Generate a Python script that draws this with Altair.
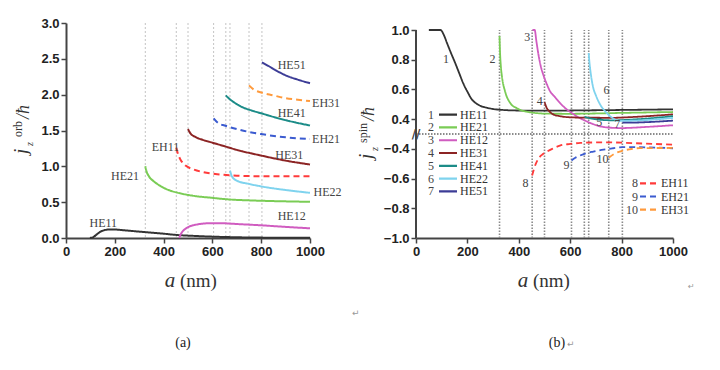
import altair as alt
import pandas as pd

# ---------------- cut-off radii (vertical dotted lines) ----------------
CUTOFFS = [325, 452, 500, 605, 655, 672, 750, 803]

# ---------------- panel (a): orbital AM  j_z^orb / hbar ----------------
ORB_HE11_A = [98, 110, 126, 140, 155, 175, 195, 230, 270, 320, 400, 455, 520, 590, 700, 850, 1000]
ORB_HE11_V = [0.0, 0.01, 0.05, 0.085, 0.107, 0.118, 0.12, 0.11, 0.098, 0.083, 0.06, 0.042, 0.03, 0.02, 0.01, 0.004, 0.002]
ORB_HE21_A = [325, 330, 340, 360, 385, 420, 460, 520, 600, 660, 750, 850, 1000]
ORB_HE21_V = [1.0, 0.93, 0.86, 0.79, 0.73, 0.67, 0.63, 0.59, 0.56, 0.54, 0.525, 0.515, 0.505]
ORB_EH11_A = [452, 460, 470, 490, 520, 560, 620, 700, 800, 1000]
ORB_EH11_V = [1.26, 1.16, 1.09, 1.01, 0.96, 0.92, 0.89, 0.87, 0.862, 0.86]
ORB_HE12_A = [464, 470, 480, 490, 505, 525, 560, 600, 650, 700, 800, 900, 1000]
ORB_HE12_V = [0.0, 0.05, 0.10, 0.13, 0.16, 0.18, 0.2, 0.207, 0.205, 0.195, 0.177, 0.155, 0.135]
ORB_HE31_A = [500, 510, 530, 560, 600, 650, 700, 800, 900, 1000]
ORB_HE31_V = [1.52, 1.46, 1.41, 1.37, 1.33, 1.28, 1.23, 1.15, 1.08, 1.025]
ORB_EH21_A = [605, 625, 650, 700, 750, 800, 900, 1000]
ORB_EH21_V = [1.67, 1.60, 1.57, 1.52, 1.48, 1.45, 1.405, 1.38]
ORB_HE22_A = [672, 680, 700, 750, 800, 900, 1000]
ORB_HE22_V = [0.94, 0.86, 0.80, 0.755, 0.72, 0.67, 0.63]
ORB_HE41_A = [655, 670, 690, 720, 760, 800, 850, 900, 950, 1000]
ORB_HE41_V = [1.99, 1.94, 1.89, 1.83, 1.78, 1.74, 1.69, 1.645, 1.605, 1.57]
ORB_EH31_A = [750, 770, 800, 850, 900, 950, 1000]
ORB_EH31_V = [2.13, 2.07, 2.03, 1.99, 1.95, 1.93, 1.91]
ORB_HE51_A = [803, 830, 860, 900, 950, 1000]
ORB_HE51_V = [2.45, 2.40, 2.34, 2.27, 2.21, 2.16]

ORB_LABELS = ["HE11", "HE21", "EH11", "HE31", "EH21", "HE41", "EH31", "HE51", "HE22", "HE12"]
ORB_LABEL_A = [153, 242, 408, 915, 1066, 925, 1066, 925, 1072, 925]
ORB_LABEL_V = [0.21, 0.86, 1.27, 1.16, 1.38, 1.74, 1.89, 2.41, 0.64, 0.31]

# ---------------- panel (b): spin AM  j_z^spin / hbar ----------------
SPIN_HE11_A = [50, 95, 110, 120, 135, 152, 168, 184, 200, 216, 235, 250, 280, 315, 400, 500, 700, 1000]
SPIN_HE11_V = [1.0, 1.0, 0.96, 0.915, 0.85, 0.78, 0.71, 0.64, 0.585, 0.536, 0.505, 0.49, 0.475, 0.465, 0.458, 0.457, 0.46, 0.466]
SPIN_HE21_A = [325, 327, 330, 335, 346, 366, 392, 431, 510, 600, 800, 1000]
SPIN_HE21_V = [0.96, 0.85, 0.76, 0.68, 0.59, 0.51, 0.474, 0.45, 0.437, 0.436, 0.442, 0.448]
SPIN_HE12_A = [453, 462, 468, 475, 485, 495, 508, 521, 540, 560, 580, 605, 630, 663, 716, 760, 800, 900, 1000]
SPIN_HE12_V = [1.0, 1.0, 0.93, 0.85, 0.76, 0.70, 0.64, 0.59, 0.55, 0.51, 0.475, 0.443, 0.415, 0.386, 0.352, 0.342, 0.34, 0.348, 0.359]
SPIN_HE31_A = [500, 508, 520, 534, 560, 586, 650, 767, 850, 1000]
SPIN_HE31_V = [0.515, 0.478, 0.45, 0.432, 0.42, 0.414, 0.41, 0.409, 0.415, 0.432]
SPIN_HE41_A = [656, 700, 767, 850, 1000]
SPIN_HE41_V = [0.415, 0.399, 0.392, 0.398, 0.42]
SPIN_HE22_A = [672, 675, 679, 689, 700, 716, 735, 755, 793, 850, 1000]
SPIN_HE22_V = [0.845, 0.78, 0.72, 0.616, 0.56, 0.50, 0.455, 0.42, 0.388, 0.39, 0.408]
SPIN_HE51_A = [803, 850, 900, 1000]
SPIN_HE51_V = [0.377, 0.377, 0.38, 0.39]
SPIN_EH11_A = [452, 460, 475, 490, 508, 530, 560, 600, 640, 740, 850, 1000]
SPIN_EH11_V = [-0.58, -0.53, -0.47, -0.44, -0.42, -0.40, -0.378, -0.367, -0.36, -0.356, -0.362, -0.372]
SPIN_EH21_A = [605, 620, 638, 660, 690, 730, 767, 806, 900, 1000]
SPIN_EH21_V = [-0.478, -0.46, -0.445, -0.43, -0.418, -0.405, -0.396, -0.388, -0.39, -0.396]
SPIN_EH31_A = [750, 770, 793, 830, 871, 1000]
SPIN_EH31_V = [-0.46, -0.435, -0.418, -0.403, -0.395, -0.394]

SPIN_NUM_LABELS = ["1", "2", "3", "4", "5", "6", "7", "8", "9", "10"]
SPIN_NUM_A = [117, 298, 433, 482, 713, 741, 783, 426, 586, 726]
SPIN_NUM_V = [0.805, 0.805, 0.954, 0.519, 0.381, 0.593, 0.368, -0.631, -0.509, -0.468]

HE_ORDER = ["HE11", "HE21", "HE12", "HE31", "HE41", "HE22", "HE51"]
EH_ORDER = ["EH11", "EH21", "EH31"]
NAMES = HE_ORDER + EH_ORDER
COLORS = ["#333333", "#7acc55", "#d05cc0", "#8c2424", "#1c8c88", "#7fd3ee", "#3c3c96",
          "#ff3b3b", "#3b5bd0", "#ff9a3c"]

ORB = {"HE11": (ORB_HE11_A, ORB_HE11_V), "HE21": (ORB_HE21_A, ORB_HE21_V),
       "HE12": (ORB_HE12_A, ORB_HE12_V), "HE31": (ORB_HE31_A, ORB_HE31_V),
       "HE41": (ORB_HE41_A, ORB_HE41_V), "HE22": (ORB_HE22_A, ORB_HE22_V),
       "HE51": (ORB_HE51_A, ORB_HE51_V), "EH11": (ORB_EH11_A, ORB_EH11_V),
       "EH21": (ORB_EH21_A, ORB_EH21_V), "EH31": (ORB_EH31_A, ORB_EH31_V)}
SPIN = {"HE11": (SPIN_HE11_A, SPIN_HE11_V), "HE21": (SPIN_HE21_A, SPIN_HE21_V),
        "HE12": (SPIN_HE12_A, SPIN_HE12_V), "HE31": (SPIN_HE31_A, SPIN_HE31_V),
        "HE41": (SPIN_HE41_A, SPIN_HE41_V), "HE22": (SPIN_HE22_A, SPIN_HE22_V),
        "HE51": (SPIN_HE51_A, SPIN_HE51_V), "EH11": (SPIN_EH11_A, SPIN_EH11_V),
        "EH21": (SPIN_EH21_A, SPIN_EH21_V), "EH31": (SPIN_EH31_A, SPIN_EH31_V)}


def long_df(d):
    rows = []
    for name, (xs, vs) in d.items():
        for x, v in zip(xs, vs):
            rows.append({"series": name, "kind": name[:2], "a": x, "v": v})
    return pd.DataFrame(rows)


df_orb = long_df(ORB)
df_spin = long_df(SPIN)

color_enc = alt.Color("series:N", scale=alt.Scale(domain=NAMES, range=COLORS), legend=None)

SERIF = "Liberation Serif"
SANS = "Liberation Sans"


def txt(t, x, y, size, style="normal", angle=0, align="left", baseline="alphabetic",
        color="#333333", font=SERIF, weight="normal"):
    return alt.Chart(pd.DataFrame({"t": [t]})).mark_text(
        font=font, fontSize=size, fontStyle=style, angle=angle, align=align,
        baseline=baseline, color=color, fontWeight=weight
    ).encode(x=alt.value(x), y=alt.value(y), text="t:N")


def axis(values, fmt=None, label_expr=None, domain=True):
    kw = dict(values=values, title=None, grid=False, labelFont=SANS, labelFontWeight="bold",
              labelFontSize=13, labelColor="#222222", domainColor="#444444", domainWidth=2,
              tickColor="#444444", tickWidth=1.5, tickSize=5, labelPadding=2, domain=domain,
              labelOverlap=False, labelFlush=False)
    if fmt:
        kw["format"] = fmt
    if label_expr:
        kw["labelExpr"] = label_expr
    return alt.Axis(**kw)


# ---------------- panel (a) ----------------
WA, HA = 244, 215
X_AX = axis([0, 200, 400, 600, 800, 1000], fmt="d")
XS = alt.Scale(domain=[0, 1000], nice=False)
xa = alt.X("a:Q", scale=XS, axis=X_AX)
ya = alt.Y("v:Q", scale=alt.Scale(domain=[0, 3], nice=False),
           axis=axis([0, 0.5, 1, 1.5, 2, 2.5, 3], fmt=".1f"))

rules_a = alt.Chart(pd.DataFrame({"a": CUTOFFS})).mark_rule(
    color="#c4c4c4", strokeDash=[2, 2], strokeWidth=1).encode(x=xa)

lines_a = alt.Chart(df_orb).mark_line(strokeWidth=2, interpolate="monotone").encode(
    x=xa, y=ya,
    color=color_enc,
    strokeDash=alt.StrokeDash("kind:N", scale=alt.Scale(domain=["HE", "EH"], range=[[1, 0], [6, 4]]),
                              legend=None),
    detail="series:N",
)

labels_a = alt.Chart(pd.DataFrame({"name": ORB_LABELS, "a": ORB_LABEL_A, "v": ORB_LABEL_V})).mark_text(
    font=SERIF, fontSize=12, color="#444444", align="center", baseline="middle").encode(
    x=xa, y=ya, text="name:N")

panel_a = alt.layer(
    rules_a, lines_a, labels_a,
    txt("j", -39, 131, 19, style="italic", angle=270),
    txt("z", -33, 123, 10, style="italic", angle=270),
    txt("orb", -44, 114, 12, angle=270),
    txt("/ħ", -37, 96, 18, style="italic", angle=270),
    txt("a", 104, 264, 21, style="italic", align="center"),
    txt("(nm)", 114, 264, 19),
    txt("(a)", 117, 324, 14, align="center", color="#222222"),
    txt("↵", 286, 293, 9, color="#999999", font="DejaVu Sans"),
).properties(width=WA, height=HA)

# ---------------- panel (b) ----------------
WB, HB = 257, 215
PXU = 208 / 1.4          # pixels per unit on the broken axis
YTOP = 0.7 + 7 / PXU
xb = alt.X("a:Q", scale=XS, axis=X_AX)
yb_scale = alt.Scale(domain=[-0.7, YTOP], nice=False, zero=False)
Y_AX_B = axis([0.7, 0.5, 0.3, 0.1, -0.1, -0.3, -0.5, -0.7],
              label_expr="datum.value > 0 ? format(datum.value + 0.3, '.1f') : format(datum.value - 0.3, '.1f')",
              domain=False)
yb = alt.Y("yb:Q", scale=yb_scale, axis=Y_AX_B)
BREAK = "datum.v > 0 ? datum.v - 0.3 : datum.v + 0.3"

axis_line_b = alt.Chart(pd.DataFrame({"a": [0]})).mark_rule(color="#444444", strokeWidth=2).encode(
    x=xb, y=alt.datum(-0.7, scale=yb_scale, axis=Y_AX_B), y2=alt.datum(0.7))

rules_b = alt.Chart(pd.DataFrame({"a": CUTOFFS})).mark_rule(
    color="#8a8a8a", strokeDash=[1.5, 1.5], strokeWidth=1.6).encode(
    x=xb, y=alt.datum(-0.7, scale=yb_scale, axis=Y_AX_B), y2=alt.datum(0.7))

break_line = alt.Chart(pd.DataFrame({"a": [0, 1000]})).mark_rule(
    color="#666666", strokeDash=[1.5, 1.5], strokeWidth=1.4).encode(
    x=alt.X("min(a):Q", scale=XS, axis=X_AX), x2=alt.X2("max(a):Q"),
    y=alt.datum(0, scale=yb_scale, axis=Y_AX_B))

break_mark = alt.Chart(pd.DataFrame({"a": [0]})).mark_text(
    text="//", font="DejaVu Sans", fontSize=12, fontWeight="bold", color="#444444",
    align="center", baseline="middle").encode(x=xb, y=alt.datum(0, scale=yb_scale, axis=Y_AX_B))

lines_b = alt.Chart(df_spin).transform_calculate(yb=BREAK).mark_line(
    strokeWidth=1.8, interpolate="monotone").encode(
    x=xb, y=yb, color=color_enc,
    strokeDash=alt.StrokeDash("kind:N", scale=alt.Scale(domain=["HE", "EH"], range=[[1, 0], [5, 3]]),
                              legend=None),
    detail="series:N",
)

nums_b = alt.Chart(pd.DataFrame({"name": SPIN_NUM_LABELS, "a": SPIN_NUM_A, "v": SPIN_NUM_V})).transform_calculate(
    yb=BREAK).mark_text(font=SERIF, fontSize=12, color="#444444", align="center", baseline="middle").encode(
    x=xb, y=yb, text="name:N")


# legends (layout computed from pixel offsets inside the plot)
def to_a(px):
    return px / WB * 1000


def to_y(px_from_one):
    return 0.7 - px_from_one / PXU


leg_rows = []
for i, name in enumerate(HE_ORDER):
    leg_rows.append({"series": name, "kind": "HE", "num": str(i + 1), "nx": to_a(15), "x0": to_a(23),
                     "x1": to_a(41), "tx": to_a(44), "yb": to_y(84.7 + i * 12.77), "al": "c"})
for j, name in enumerate(EH_ORDER):
    leg_rows.append({"series": name, "kind": "EH", "num": str(len(HE_ORDER) + j + 1), "nx": to_a(222),
                     "x0": to_a(224), "x1": to_a(242), "tx": to_a(245), "yb": to_y(153.3 + j * 13.2), "al": "r"})
df_leg = pd.DataFrame(leg_rows)

leg_lines = alt.Chart(df_leg).mark_rule(strokeWidth=2.2).encode(
    x=alt.X("x0:Q", scale=XS, axis=X_AX), x2="x1:Q", y=yb, color=color_enc,
    strokeDash=alt.StrokeDash("kind:N", scale=alt.Scale(domain=["HE", "EH"], range=[[1, 0], [3, 2]]),
                              legend=None))
leg_text = alt.Chart(df_leg).mark_text(font=SERIF, fontSize=12, color="#333333", align="left",
                                       baseline="middle").encode(
    x=alt.X("tx:Q", scale=XS, axis=X_AX), y=yb, text="series:N")
leg_num_c = alt.Chart(df_leg).transform_filter("datum.al == 'c'").mark_text(
    font=SERIF, fontSize=12, color="#444444", align="center", baseline="middle").encode(
    x=alt.X("nx:Q", scale=XS, axis=X_AX), y=yb, text="num:N")
leg_num_r = alt.Chart(df_leg).transform_filter("datum.al == 'r'").mark_text(
    font=SERIF, fontSize=12, color="#444444", align="right", baseline="middle").encode(
    x=alt.X("nx:Q", scale=XS, axis=X_AX), y=yb, text="num:N")

panel_b = alt.layer(
    rules_b, break_line, axis_line_b, lines_b, nums_b, break_mark,
    leg_lines, leg_text, leg_num_c, leg_num_r,
    txt("j", -44, 136, 19, style="italic", angle=270),
    txt("z", -38, 128, 10, style="italic", angle=270),
    txt("spin", -49, 120, 12, angle=270),
    txt("/ħ", -42, 98, 18, style="italic", angle=270),
    txt("a", 107, 264, 21, style="italic", align="center"),
    txt("(nm)", 117, 264, 19),
    txt("(b)", 141, 324, 14, align="center", color="#222222"),
    txt("↵", 151, 324, 9, color="#999999", font="DejaVu Sans"),
    txt("↵", 272, 266, 8, color="#999999", font="DejaVu Sans"),
).properties(width=WB, height=HB)

chart = alt.hconcat(panel_a, panel_b, spacing=106, bounds="flush").properties(
    padding={"left": 4, "top": 9, "right": 5, "bottom": 5},
    background="white",
).configure_view(stroke=None)

chart.save("out.html", embed_options={"renderer": "svg", "actions": False})
